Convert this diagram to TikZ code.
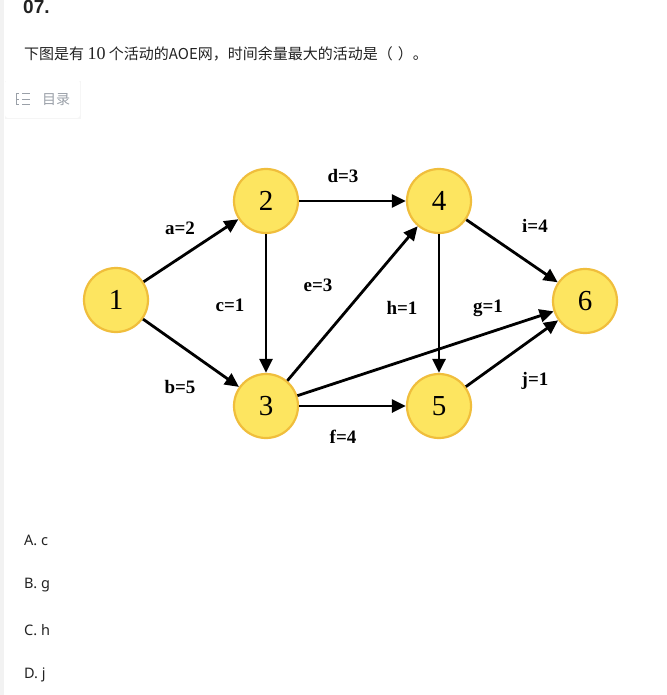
\documentclass[tikz,border=0pt]{standalone}
\usepackage{fontspec}
\setmainfont{Liberation Serif}
\newfontfamily\cjk{Noto Sans CJK SC}
\newfontfamily\uisans{Noto Sans}
\newfontfamily\hsans{Liberation Sans}
\usetikzlibrary{arrows.meta}
\definecolor{nodefill}{HTML}{FDE560}
\definecolor{nodeedge}{HTML}{F0BE3C}
\definecolor{txt}{HTML}{222222}
\definecolor{graytxt}{HTML}{9AA0A8}
\tikzset{
  ev/.style={circle, minimum size=64pt, inner sep=0pt, fill=nodefill, draw=nodeedge, line width=2.2pt, font=\fontsize{29}{29}\selectfont},
  act/.style={-{Triangle[length=14pt,width=13pt]}, line width=2.8pt, black},
  lab/.style={font=\bfseries\fontsize{19}{19}\selectfont, inner sep=0pt},
  body/.style={anchor=west, inner sep=0pt, text=txt},
}
\begin{document}
\begin{tikzpicture}[x=1pt,y=-1pt]
\useasboundingbox (0,0) rectangle (666,695);
\fill[white] (0,0) rectangle (666,695);
\fill[black!5] (0,0) rectangle (4,695);
% header
\node[body, font=\hsans\bfseries\fontsize{19}{19}\selectfont] (num) at (23,7) {07.};
\node[body, font=\cjk\fontsize{15}{15}\selectfont] (q) at (24,54) {下图是有 {\rmfamily\fontsize{18}{18}\selectfont 10} 个活动的AOE网，时间余量最大的活动是（\hspace{5pt}）。};
% toc button
\fill[black!4] (5,81) rectangle (81,119);
\fill[white, rounded corners=3pt] (5,80) rectangle (80,118);
\draw[graytxt, line width=1pt] (19,94) -- (16,94) -- (16,105) -- (19,105);
\draw[graytxt, line width=1pt] (16,99.5) -- (19,99.5);
\draw[graytxt, line width=1pt] (22,94) -- (30,94) (22,99.5) -- (30,99.5) (22,105) -- (30,105);
\node[body, text=graytxt, font=\cjk\fontsize{14}{14}\selectfont] (toc) at (42,99.5) {目录};
% graph
\node[ev] (n1) at (116,300) {1};
\node[ev] (n2) at (266,201) {2};
\node[ev] (n3) at (266,406) {3};
\node[ev] (n4) at (439,201) {4};
\node[ev] (n5) at (439,406) {5};
\node[ev] (n6) at (585,301) {6};
\draw[act] (n1) -- (n2);
\draw[act] (n1) -- (n3);
\draw[act] (n2) -- (n3);
\draw[act] (n2) -- (n4);
\draw[act] (n3) -- (n4);
\draw[act] (n3) -- (n5);
\draw[act] (n3) -- (n6);
\draw[act] (n4) -- (n5);
\draw[act] (n4) -- (n6);
\draw[act] (n5) -- (n6);
\node[lab] (la) at (180,228) {a=2};
\node[lab] (ld) at (343,176) {d=3};
\node[lab] (lc) at (230,305) {c=1};
\node[lab] (le) at (318,285) {e=3};
\node[lab] (lh) at (402,308) {h=1};
\node[lab] (lg) at (488,308) {g=1};
\node[lab] (li) at (535,226) {i=4};
\node[lab] (lb) at (180,387) {b=5};
\node[lab] (lj) at (535,381) {j=1};
\node[lab] (lf) at (343,437) {f=4};
% options
\node[body, font=\uisans\fontsize{14.5}{14.5}\selectfont] (oa) at (24,540) {A. c};
\node[body, font=\uisans\fontsize{14.5}{14.5}\selectfont] (ob) at (24,585) {B. g};
\node[body, font=\uisans\fontsize{14.5}{14.5}\selectfont] (oc) at (24,630) {C. h};
\node[body, font=\uisans\fontsize{14.5}{14.5}\selectfont] (od) at (24,675) {D. j};
\end{tikzpicture}
\end{document}
